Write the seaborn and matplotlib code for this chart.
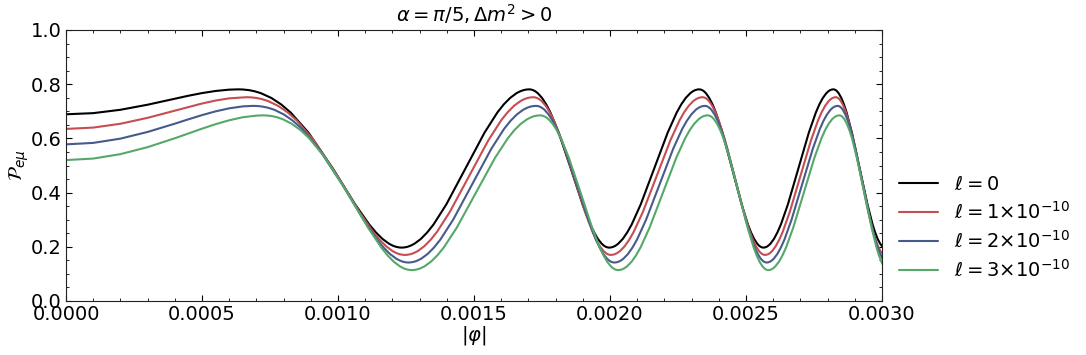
import numpy as np
import pandas as pd
import matplotlib
matplotlib.use("Agg")
import matplotlib.pyplot as plt
import seaborn as sns
from matplotlib.ticker import MultipleLocator, FormatStrFormatter

# |phi| in units of 1e-4 and P_emu (one line per swing)
phi_l0 = [0, 1, 2, 3, 4, 4.5, 5, 5.5, 6, 6.34,
          6.514, 6.726, 6.931, 7.170, 7.550, 7.913, 8.259, 8.912, 9.810, 10.632, 11.147, 11.396, 11.639, 11.877, 12.018, 12.134, 12.249, 12.34,
          12.434, 12.551, 12.668, 12.809, 13.044, 13.278, 13.513, 13.982, 14.685, 15.389, 15.858, 16.092, 16.327, 16.561, 16.702, 16.819, 16.936, 17.03,
          17.094, 17.173, 17.252, 17.346, 17.503, 17.657, 17.811, 18.113, 18.558, 18.993, 19.277, 19.418, 19.557, 19.696, 19.778, 19.847, 19.915, 19.97,
          20.036, 20.119, 20.202, 20.301, 20.467, 20.632, 20.798, 21.129, 21.625, 22.122, 22.453, 22.618, 22.784, 22.949, 23.048, 23.131, 23.214, 23.28,
          23.330, 23.391, 23.453, 23.527, 23.649, 23.771, 23.892, 24.132, 24.488, 24.839, 25.071, 25.186, 25.300, 25.414, 25.482, 25.539, 25.595, 25.64,
          25.691, 25.756, 25.820, 25.897, 26.026, 26.154, 26.283, 26.540, 26.925, 27.311, 27.568, 27.696, 27.825, 27.953, 28.030, 28.094, 28.159, 28.21,
          28.249, 28.299, 28.348, 28.407, 28.505, 28.602, 28.699, 28.893, 29.181, 29.466, 29.654, 29.748, 29.841, 29.934, 29.990, 30.037, 30.083, 30.12]
p_l0 = [0.689, 0.6932, 0.7056, 0.7243, 0.7464, 0.7574, 0.7672, 0.7750, 0.7799, 0.781,
        0.7804, 0.7781, 0.7740, 0.7667, 0.7492, 0.7252, 0.6955, 0.6216, 0.4890, 0.3564, 0.2825, 0.2528, 0.2288, 0.2113, 0.2040, 0.1999, 0.1976, 0.1970,
        0.1976, 0.1999, 0.2040, 0.2113, 0.2288, 0.2528, 0.2825, 0.3564, 0.4890, 0.6216, 0.6955, 0.7252, 0.7492, 0.7667, 0.7740, 0.7781, 0.7804, 0.7810,
        0.7804, 0.7781, 0.7740, 0.7667, 0.7492, 0.7252, 0.6955, 0.6216, 0.4890, 0.3564, 0.2825, 0.2528, 0.2288, 0.2113, 0.2040, 0.1999, 0.1976, 0.1970,
        0.1976, 0.1999, 0.2040, 0.2113, 0.2288, 0.2528, 0.2825, 0.3564, 0.4890, 0.6216, 0.6955, 0.7252, 0.7492, 0.7667, 0.7740, 0.7781, 0.7804, 0.7810,
        0.7804, 0.7781, 0.7740, 0.7667, 0.7492, 0.7252, 0.6955, 0.6216, 0.4890, 0.3564, 0.2825, 0.2528, 0.2288, 0.2113, 0.2040, 0.1999, 0.1976, 0.1970,
        0.1976, 0.1999, 0.2040, 0.2113, 0.2288, 0.2528, 0.2825, 0.3564, 0.4890, 0.6216, 0.6955, 0.7252, 0.7492, 0.7667, 0.7740, 0.7781, 0.7804, 0.7810,
        0.7804, 0.7781, 0.7740, 0.7667, 0.7492, 0.7252, 0.6955, 0.6216, 0.4890, 0.3564, 0.2825, 0.2528, 0.2288, 0.2113, 0.2040, 0.1999, 0.1976, 0.1970]

phi_l1 = [0, 1, 2, 3, 4, 4.5, 5, 5.5, 6, 6.64,
          6.805, 7.007, 7.202, 7.430, 7.795, 8.144, 8.478, 9.110, 9.983, 10.786, 11.290, 11.533, 11.772, 12.006, 12.144, 12.258, 12.370, 12.46,
          12.554, 12.672, 12.790, 12.932, 13.168, 13.404, 13.640, 14.112, 14.820, 15.528, 16.000, 16.236, 16.472, 16.708, 16.850, 16.968, 17.086, 17.18,
          17.242, 17.318, 17.395, 17.486, 17.637, 17.787, 17.935, 18.228, 18.660, 19.081, 19.357, 19.493, 19.629, 19.764, 19.844, 19.911, 19.977, 20.03,
          20.097, 20.182, 20.266, 20.367, 20.536, 20.704, 20.873, 21.210, 21.715, 22.221, 22.558, 22.726, 22.895, 23.063, 23.164, 23.248, 23.333, 23.40,
          23.448, 23.508, 23.568, 23.640, 23.759, 23.878, 23.996, 24.230, 24.577, 24.919, 25.145, 25.257, 25.368, 25.479, 25.546, 25.601, 25.656, 25.70,
          25.752, 25.817, 25.882, 25.960, 26.090, 26.220, 26.350, 26.610, 27.000, 27.390, 27.650, 27.780, 27.910, 28.040, 28.118, 28.183, 28.248, 28.30,
          28.338, 28.384, 28.431, 28.487, 28.580, 28.673, 28.766, 28.950, 29.224, 29.496, 29.675, 29.765, 29.854, 29.943, 29.996, 30.040, 30.085, 30.12]
p_l1 = [0.635, 0.6399, 0.6540, 0.6759, 0.7024, 0.7160, 0.7287, 0.7397, 0.7478, 0.752,
        0.7514, 0.7491, 0.7450, 0.7378, 0.7203, 0.6964, 0.6668, 0.5931, 0.4610, 0.3289, 0.2552, 0.2256, 0.2017, 0.1842, 0.1770, 0.1729, 0.1706, 0.1700,
        0.1706, 0.1729, 0.1770, 0.1842, 0.2017, 0.2256, 0.2552, 0.3289, 0.4610, 0.5931, 0.6668, 0.6964, 0.7203, 0.7378, 0.7450, 0.7491, 0.7514, 0.7520,
        0.7514, 0.7491, 0.7450, 0.7378, 0.7203, 0.6964, 0.6668, 0.5931, 0.4610, 0.3289, 0.2552, 0.2256, 0.2017, 0.1842, 0.1770, 0.1729, 0.1706, 0.1700,
        0.1706, 0.1729, 0.1770, 0.1842, 0.2017, 0.2256, 0.2552, 0.3289, 0.4610, 0.5931, 0.6668, 0.6964, 0.7203, 0.7378, 0.7450, 0.7491, 0.7514, 0.7520,
        0.7514, 0.7491, 0.7450, 0.7378, 0.7203, 0.6964, 0.6668, 0.5931, 0.4610, 0.3289, 0.2552, 0.2256, 0.2017, 0.1842, 0.1770, 0.1729, 0.1706, 0.1700,
        0.1706, 0.1729, 0.1770, 0.1842, 0.2017, 0.2256, 0.2552, 0.3289, 0.4610, 0.5931, 0.6668, 0.6964, 0.7203, 0.7378, 0.7450, 0.7491, 0.7514, 0.7520,
        0.7514, 0.7491, 0.7450, 0.7378, 0.7203, 0.6964, 0.6668, 0.5931, 0.4610, 0.3289, 0.2552, 0.2256, 0.2017, 0.1842, 0.1770, 0.1729, 0.1706, 0.1700]

phi_l2 = [0, 1, 2, 3, 4, 4.5, 5, 5.5, 6, 6.5, 6.89,
          7.049, 7.244, 7.433, 7.654, 8.008, 8.347, 8.674, 9.292, 10.148, 10.938, 11.435, 11.675, 11.910, 12.141, 12.277, 12.390, 12.502, 12.59,
          12.684, 12.801, 12.918, 13.059, 13.294, 13.528, 13.763, 14.232, 14.935, 15.639, 16.108, 16.342, 16.577, 16.811, 16.952, 17.069, 17.186, 17.28,
          17.342, 17.420, 17.497, 17.589, 17.742, 17.893, 18.043, 18.339, 18.775, 19.201, 19.480, 19.618, 19.755, 19.891, 19.972, 20.039, 20.106, 20.16,
          20.227, 20.310, 20.393, 20.493, 20.660, 20.826, 20.993, 21.326, 21.825, 22.325, 22.658, 22.824, 22.991, 23.157, 23.257, 23.340, 23.423, 23.49,
          23.538, 23.597, 23.656, 23.727, 23.844, 23.961, 24.078, 24.309, 24.651, 24.989, 25.212, 25.322, 25.432, 25.542, 25.608, 25.662, 25.717, 25.76,
          25.812, 25.878, 25.943, 26.021, 26.152, 26.282, 26.413, 26.674, 27.065, 27.457, 27.718, 27.848, 27.979, 28.109, 28.187, 28.253, 28.318, 28.37,
          28.408, 28.455, 28.502, 28.558, 28.652, 28.745, 28.838, 29.024, 29.299, 29.572, 29.753, 29.843, 29.933, 30.022, 30.076, 30.120, 30.164, 30.20]
p_l2 = [0.578, 0.5834, 0.5991, 0.6238, 0.6543, 0.6704, 0.6859, 0.6998, 0.7110, 0.7181, 0.720,
        0.7194, 0.7171, 0.7130, 0.7059, 0.6885, 0.6648, 0.6354, 0.5622, 0.4310, 0.2998, 0.2266, 0.1972, 0.1735, 0.1561, 0.1490, 0.1449, 0.1426, 0.1420,
        0.1426, 0.1449, 0.1490, 0.1561, 0.1735, 0.1972, 0.2266, 0.2998, 0.4310, 0.5622, 0.6354, 0.6648, 0.6885, 0.7059, 0.7130, 0.7171, 0.7194, 0.7200,
        0.7194, 0.7171, 0.7130, 0.7059, 0.6885, 0.6648, 0.6354, 0.5622, 0.4310, 0.2998, 0.2266, 0.1972, 0.1735, 0.1561, 0.1490, 0.1449, 0.1426, 0.1420,
        0.1426, 0.1449, 0.1490, 0.1561, 0.1735, 0.1972, 0.2266, 0.2998, 0.4310, 0.5622, 0.6354, 0.6648, 0.6885, 0.7059, 0.7130, 0.7171, 0.7194, 0.7200,
        0.7194, 0.7171, 0.7130, 0.7059, 0.6885, 0.6648, 0.6354, 0.5622, 0.4310, 0.2998, 0.2266, 0.1972, 0.1735, 0.1561, 0.1490, 0.1449, 0.1426, 0.1420,
        0.1426, 0.1449, 0.1490, 0.1561, 0.1735, 0.1972, 0.2266, 0.2998, 0.4310, 0.5622, 0.6354, 0.6648, 0.6885, 0.7059, 0.7130, 0.7171, 0.7194, 0.7200,
        0.7194, 0.7171, 0.7130, 0.7059, 0.6885, 0.6648, 0.6354, 0.5622, 0.4310, 0.2998, 0.2266, 0.1972, 0.1735, 0.1561, 0.1490, 0.1449, 0.1426, 0.1420]

phi_l3 = [0, 1, 2, 3, 4, 4.5, 5, 5.5, 6, 6.5, 7, 7.25,
          7.399, 7.581, 7.758, 7.966, 8.301, 8.623, 8.934, 9.524, 10.347, 11.109, 11.589, 11.821, 12.050, 12.274, 12.406, 12.516, 12.624, 12.71,
          12.804, 12.922, 13.040, 13.182, 13.418, 13.654, 13.890, 14.362, 15.070, 15.778, 16.250, 16.486, 16.722, 16.958, 17.100, 17.218, 17.336, 17.43,
          17.492, 17.569, 17.646, 17.738, 17.890, 18.041, 18.190, 18.485, 18.920, 19.344, 19.622, 19.760, 19.896, 20.031, 20.112, 20.180, 20.247, 20.30,
          20.366, 20.448, 20.530, 20.629, 20.794, 20.958, 21.123, 21.452, 21.945, 22.439, 22.768, 22.932, 23.097, 23.261, 23.360, 23.442, 23.524, 23.59,
          23.637, 23.695, 23.753, 23.823, 23.938, 24.053, 24.167, 24.394, 24.730, 25.062, 25.281, 25.390, 25.498, 25.606, 25.670, 25.724, 25.777, 25.82,
          25.872, 25.938, 26.003, 26.081, 26.212, 26.342, 26.473, 26.734, 27.125, 27.517, 27.778, 27.908, 28.039, 28.169, 28.247, 28.313, 28.378, 28.43,
          28.467, 28.514, 28.561, 28.616, 28.709, 28.801, 28.893, 29.076, 29.349, 29.619, 29.798, 29.887, 29.976, 30.064, 30.117, 30.161, 30.205, 30.24]
p_l3 = [0.520, 0.5256, 0.5419, 0.5677, 0.6005, 0.6183, 0.6359, 0.6525, 0.6669, 0.6780, 0.6841, 0.685,
        0.6844, 0.6822, 0.6781, 0.6710, 0.6539, 0.6305, 0.6014, 0.5291, 0.3995, 0.2699, 0.1976, 0.1685, 0.1451, 0.1280, 0.1209, 0.1169, 0.1146, 0.1140,
        0.1146, 0.1169, 0.1209, 0.1280, 0.1451, 0.1685, 0.1976, 0.2699, 0.3995, 0.5291, 0.6014, 0.6305, 0.6539, 0.6710, 0.6781, 0.6822, 0.6844, 0.6850,
        0.6844, 0.6822, 0.6781, 0.6710, 0.6539, 0.6305, 0.6014, 0.5291, 0.3995, 0.2699, 0.1976, 0.1685, 0.1451, 0.1280, 0.1209, 0.1169, 0.1146, 0.1140,
        0.1146, 0.1169, 0.1209, 0.1280, 0.1451, 0.1685, 0.1976, 0.2699, 0.3995, 0.5291, 0.6014, 0.6305, 0.6539, 0.6710, 0.6781, 0.6822, 0.6844, 0.6850,
        0.6844, 0.6822, 0.6781, 0.6710, 0.6539, 0.6305, 0.6014, 0.5291, 0.3995, 0.2699, 0.1976, 0.1685, 0.1451, 0.1280, 0.1209, 0.1169, 0.1146, 0.1140,
        0.1146, 0.1169, 0.1209, 0.1280, 0.1451, 0.1685, 0.1976, 0.2699, 0.3995, 0.5291, 0.6014, 0.6305, 0.6539, 0.6710, 0.6781, 0.6822, 0.6844, 0.6850,
        0.6844, 0.6822, 0.6781, 0.6710, 0.6539, 0.6305, 0.6014, 0.5291, 0.3995, 0.2699, 0.1976, 0.1685, 0.1451, 0.1280, 0.1209, 0.1169, 0.1146, 0.1140]

labels = [r'$\ell=0$', r'$\ell=1{\times}10^{-10}$',
          r'$\ell=2{\times}10^{-10}$', r'$\ell=3{\times}10^{-10}$']
colors = ['#000000', '#c44e52', '#465a8c', '#55a868']

frames = []
for lab, xs, ys in zip(labels, [phi_l0, phi_l1, phi_l2, phi_l3], [p_l0, p_l1, p_l2, p_l3]):
    frames.append(pd.DataFrame({'phi': np.array(xs) * 1e-4, 'P': ys, 'curve': lab}))
df = pd.concat(frames, ignore_index=True)

sns.set_theme(style="ticks")
plt.rcParams['font.family'] = ['DejaVu Sans']
plt.rcParams['mathtext.fontset'] = 'dejavusans'
plt.rcParams['text.color'] = 'black'
plt.rcParams['axes.labelcolor'] = 'black'
plt.rcParams['xtick.color'] = 'black'
plt.rcParams['ytick.color'] = 'black'

fig = plt.figure(figsize=(10.86, 3.55), dpi=100)
ax = fig.add_axes([66 / 1086, 54 / 355, 816 / 1086, 271 / 355])

sns.lineplot(data=df, x='phi', y='P', hue='curve', palette=dict(zip(labels, colors)),
             estimator=None, sort=False, linewidth=1.5, ax=ax)

ax.set_xlim(0, 0.003)
ax.set_ylim(0, 1.0)
ax.xaxis.set_major_locator(MultipleLocator(0.0005))
ax.xaxis.set_minor_locator(MultipleLocator(0.0001))
ax.yaxis.set_major_locator(MultipleLocator(0.2))
ax.yaxis.set_minor_locator(MultipleLocator(0.05))
ax.xaxis.set_major_formatter(FormatStrFormatter('%.4f'))
ax.yaxis.set_major_formatter(FormatStrFormatter('%.1f'))
ax.tick_params(which='both', direction='in', top=True, right=True, labelsize=14, pad=3)
ax.tick_params(which='major', length=4, width=0.8)
ax.tick_params(which='minor', length=2, width=0.6)
for sp in ax.spines.values():
    sp.set_linewidth(0.8)
    sp.set_color('#222222')

ax.set_xlabel(r'$|\varphi|$', fontsize=14, labelpad=0)
ax.set_ylabel(r'$\mathcal{P}_{e\mu}$', fontsize=14, labelpad=0)
ax.set_title(r'$\alpha=\pi/5, \Delta m^2>0$', fontsize=14, pad=6)

ax.legend(loc='center left', bbox_to_anchor=(1.0, 0.27), frameon=False,
          fontsize=14, handlelength=2.0, labelspacing=0.35)

fig.savefig('out.png', dpi=100)
